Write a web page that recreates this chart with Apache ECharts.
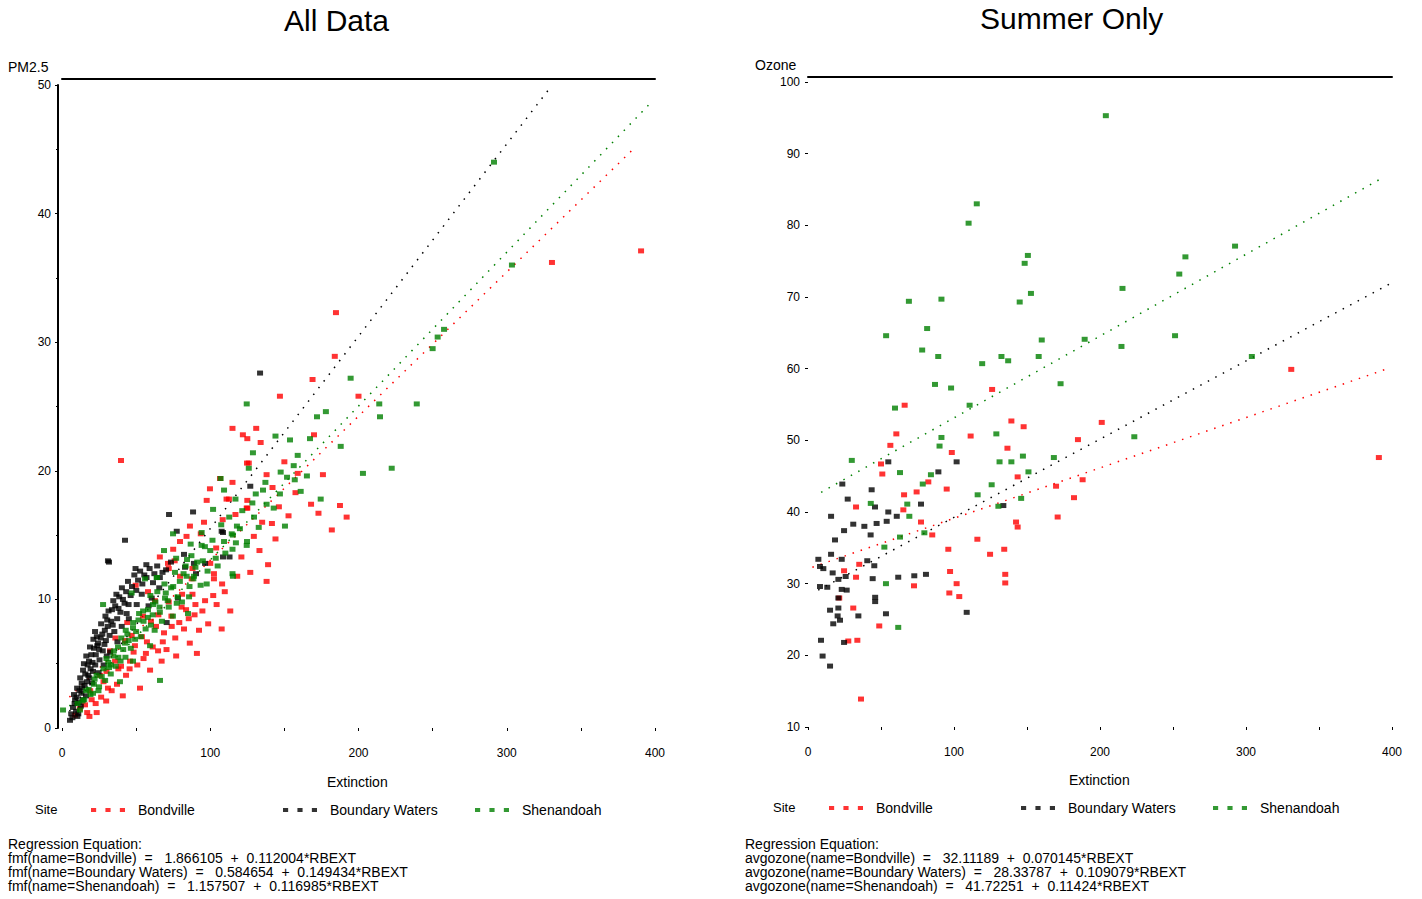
<!DOCTYPE html>
<html>
<head>
<meta charset="utf-8">
<title>All Data / Summer Only</title>
<script src="https://cdn.jsdelivr.net/npm/echarts@6/dist/echarts.min.js"></script>
<style>
  html, body { margin: 0; padding: 0; background: #fff; }
  #main { width: 1422px; height: 899px; }
</style>
</head>
<body>
<div id="main"></div>
<script>
// ---- data: [Extinction, value] ----

// All Data (PM2.5)
var allBondville = [
  [184.8,32.3],[184,28.9],[169,27.1],[147,25.8],[200,25.8],[115,23.3],[131,23.3],[122,22.8],[125,22.5],[134,22.2],
  [170,22.8],[150,20.7],[126,20.6],[138,19.7],[159,19.8],[176,19.7],[115,19.1],[142,18.7],[168,17.4],[187.5,17.3],
  [173,16.7],[192,16.4],[182,15.4],[144,14.7],[117,16.6],[135,16.0],[124.6,17.1],[97.6,17.7],[99.8,18.6],[106.6,19.4],
  [108.4,16.2],[112.6,17.8],[330.5,36.2],[390.6,37.1],[39.8,20.8],[124.8,20.6],[111,17.8],[125,17.7],[125,17.1],[95.8,16.0],
  [84,14.9],[93.6,15.1],[75,13.9],[66,13.3],[76,13.0],[88,12.4],[121,13.3],[104,14.0],[72,12.4],[100,12.8],
  [127,12.1],[102.5,11.6],[71.5,12.8],[49.7,11.1],[79.6,11.8],[87.5,11.6],[102.5,12.0],[139,12.7],[138,11.4],[108,11.2],
  [102,10.3],[96.5,9.9],[90,9.6],[88,10.4],[81,10.4],[80.7,9.4],[85.5,8.5],[92.4,7.6],[82.3,7.7],[107.7,7.7],
  [68.8,7.4],[60,8.3],[49.2,6.4],[64.8,6.0],[57.3,6.7],[77,5.6],[91,5.8],[68,6.7],[59.4,4.5],[43.2,4.1],
  [52.6,3.1],[41,2.5],[23.4,1.2],[31,3.1],[15.5,1.8],[19,2.9],[8.8,1.0],[25.6,4.1],[35.8,5.2],[42.5,6.8],
  [32.4,6.0],[79.6,14.5],[86.3,15.7],[62.7,9.9],[54.6,8.7],[45.9,5.2],[12,1.5],[28,3.6],[38,4.6],[47,7.2],
  [55,5.4],[65,8.8],[72,9.8],[74,7.9],[58,10.6],[44,8.2],[36,7.0],[30,4.4],[20,2.2],[17,1.2],
  [18.5,0.9],[22.7,1.9],[26.4,2.4],[29.8,2.1],[33.5,2.9],[37.1,3.4],[39.8,4.8],[45.6,4.6],[48.3,5.9],[50.8,4.9],
  [53.9,7.1],[56.6,5.8],[61.2,6.3],[63.4,7.9],[67.2,5.2],[70.5,6.1],[73.8,8.7],[76.4,7.0],[79.1,8.2],[83.7,9.2],
  [86.2,6.6],[89.4,8.8],[94.7,9.1],[98.6,8.1],[104.3,9.6],[109.8,10.6],[113.5,9.1],[118.2,11.8],[129.4,14.9],[133.2,13.8],
  [141.6,15.9],[146.3,17.2],[152.8,16.5],[157.5,18.3]
];
var allBoundary = [
  [133.6,27.6],[127,18.8],[107.7,15.3],[88.4,16.8],[72.2,16.6],[42.5,14.6],[31,13.0],[77.4,15.3],[82.3,13.5],[108.6,15.2],
  [96.5,12.8],[108.6,13.3],[113,13.3],[89,12.8],[83,12.5],[57,11.7],[66,11.7],[31.7,12.9],[60.5,10.1],[43.6,8.9],
  [40.3,7.9],[22.3,7.5],[24.3,6.6],[18.2,5.2],[14.2,4.5],[13.3,3.5],[8.8,2.2],[5.4,0.6],[30.2,5.6],[50.4,9.6],
  [90.4,12.0],[78.2,10.1],[70.6,8.2],[6.2,1.1],[7.4,1.6],[8.1,2.6],[9.5,1.3],[10.2,3.1],[11.6,2.0],[12.3,3.9],
  [13.1,2.7],[14.8,5.0],[15.2,3.3],[16.4,5.6],[17.7,4.1],[18.9,6.3],[19.3,4.6],[20.6,5.1],[21.2,6.9],[22.8,5.7],
  [23.5,7.1],[24.7,4.3],[25.1,6.1],[26.4,8.1],[27.2,7.3],[28.6,6.5],[29.3,8.7],[30.8,7.9],[31.4,9.1],[33.2,8.3],
  [34.6,9.9],[35.3,7.5],[36.7,10.4],[38.1,9.3],[40.4,10.9],[42.2,9.7],[44.5,11.4],[46.3,10.3],[48.8,11.9],[50.1,10.7],
  [52.7,12.2],[54.2,11.2],[56.9,12.7],[58.4,9.5],[62.3,12.0],[65.6,10.9],[70.2,12.3],[45.1,8.5],[37.4,6.7],[32.5,5.9],
  [28.1,4.9],[20.3,3.5],[16.2,2.5],[12.7,1.7],[10.4,0.9],
  [7,0.8],[8.5,1.9],[9.8,2.4],[11,1.1],[11.8,2.9],[13.5,3.1],[14.1,2.2],[15.7,4.2],[16.9,3.6],[17.3,4.9],
  [18.4,3.9],[19.8,5.7],[20.9,4.4],[21.6,6.2],[22.4,4.9],[23.8,6.4],[25.3,5.3],[26.1,7.0],[27.5,6.0],[28.9,7.6],
  [29.6,6.8],[30.5,8.4],[32.1,7.2],[33.7,9.2],[34.2,8.0],[35.9,9.5],[37.2,8.5],[38.6,10.2],[39.4,9.0],[41.1,10.0],
  [43.3,10.6],[44.9,9.6],[47.2,11.0],[49.6,12.4],[51.3,11.5],[53.8,10.4],[55.5,11.9],[59.1,12.4],[61.4,11.3],[64.2,12.6],
  [67.8,12.1],[73.5,12.9]
];
var allShenandoah = [
  [257.7,31.0],[253.4,30.4],[250,29.5],[239.3,25.2],[214.5,24.2],[214,25.2],[178,24.6],[172,24.2],[194.7,27.2],[124.6,25.2],
  [167.3,22.5],[153.8,22.4],[144,22.7],[128.8,21.4],[126,20.2],[159,21.2],[188,21.9],[222.4,20.2],[203,19.8],[147.5,19.9],
  [151.8,19.5],[157,19.3],[161,18.4],[174.5,17.8],[135.6,18.5],[147,18.2],[130.7,18.2],[138,17.4],[129.5,16.4],[150.4,15.7],
  [118,15.7],[109.3,18.5],[107,19.4],[101.9,17.0],[115.3,15.0],[124.8,14.5],[291.4,44.0],[303.5,36.0],[117,17.8],[94.2,15.2],
  [114.5,15.1],[120,15.5],[86.8,14.3],[94.2,14.2],[109.3,14.5],[68.8,13.8],[77,13.2],[84.3,13.1],[115,13.9],[74.9,15.1],
  [89,11.8],[115,12.0],[64,11.7],[124.6,14.2],[27.7,9.6],[47,10.5],[56,11.6],[63.9,11.7],[69.5,10.1],[61.4,9.6],
  [42.5,6.6],[31.7,4.7],[20.9,2.7],[12.1,1.4],[0.7,1.4],[47.9,5.2],[59.4,6.4],[66.1,3.7],[85,8.9],[77.4,9.7],
  [84.1,11.8],[97.6,11.2],[115.3,11.8],[39.1,3.6],[15,2.2],[18,3.0],[22,3.8],[25,3.2],[28,4.6],[30,5.4],
  [33,4.9],[35,6.0],[38,5.5],[40,7.0],[43,7.6],[45,6.8],[48,8.2],[50,7.5],[52,8.9],[55,8.3],
  [58,9.2],[60,8.0],[63,9.8],[66,9.0],[70,10.5],[72,9.4],[75,11.0],[78,10.2],[82,12.0],[86,11.0],
  [90,12.5],[95,13.0],[100,13.8],[105,12.6],
  [10.5,1.9],[13.8,2.1],[16.3,2.9],[19.2,2.6],[21.5,3.4],[23.3,4.1],[24.6,2.9],[26.8,4.0],[29.1,3.7],[31.2,5.1],
  [32.9,4.2],[34.6,5.6],[36.2,4.8],[37.8,6.3],[39.5,5.2],[41.3,6.1],[42.8,5.5],[44.1,7.3],[46.4,6.2],[47.9,7.8],
  [49.3,6.9],[51.6,8.4],[53.2,7.1],[54.7,9.1],[56.4,7.7],[57.9,8.6],[59.6,10.3],[61.2,8.8],[62.5,7.6],[64.3,10.6],
  [65.8,9.4],[67.4,8.3],[69.1,11.2],[71.3,9.9],[73.6,10.9],[74.8,8.7],[76.2,12.1],[79.5,11.4],[80.9,9.8],[83.4,12.6],
  [85.7,10.2],[87.3,13.4],[88.6,11.6],[91.2,12.9],[93.5,11.1],[96.4,14.1],[98.2,12.2],[101.5,14.6],[103.7,13.2],[107.4,15.8],
  [110.2,13.6],[112.8,16.4],[117.3,14.4],[121.6,16.9],[128.4,17.5],[132.7,15.6],[137.2,19.1],[142.8,17.1],[156.3,20.4],[165.2,19.6]
];
// fitted lines, ends
var allFitBondville = [[5,2.4],[387,45.2]];
var allFitBoundary = [[5,1.3],[330,49.9]];
var allFitShenandoah = [[5,1.7],[397,48.6]];

// Summer Only (Ozone)
var sumBondville = [
  [126.1,57.1],[66.2,54.9],[60.5,50.9],[56.4,49.3],[111.4,50.6],[139.3,52.7],[147.7,51.9],[136.6,48.9],[98.5,48.3],[184.9,50.1],
  [201.2,52.5],[331,59.9],[391,47.6],[50,46.7],[143.6,44.9],[188.1,44.5],[169.9,43.6],[182.2,42.0],[171,39.3],[142.5,38.6],
  [143.6,37.9],[134.4,34.8],[135.1,31.3],[135.1,30.1],[50.9,45.3],[82.4,44.2],[95,43.2],[74.4,42.8],[65.8,42.4],[32.9,40.7],
  [65.3,40.3],[77.4,38.6],[85.1,36.8],[96.1,34.8],[35.1,32.7],[24.7,31.8],[32.9,30.9],[97.3,31.7],[101.8,30.0],[72.6,29.7],
  [96.8,28.7],[103.6,28.2],[21.4,28.0],[31,26.6],[48.8,24.1],[33.8,22.1],[27.6,22.0],[36.3,13.9],[116,36.2],[124.7,34.1]
];
var sumBoundary = [
  [55,47.0],[101.8,47.0],[89.3,45.6],[23.5,43.9],[43.6,43.1],[27.2,41.8],[45.9,40.7],[77.4,41.1],[133.8,40.9],[55,40.0],
  [60.8,39.4],[15.8,39.4],[31,38.3],[38.6,38.0],[47,38.4],[53.9,38.7],[24.7,37.4],[42.9,36.8],[18.5,36.1],[15.8,34.1],
  [7.1,33.4],[23.1,33.4],[40.6,33.2],[10.5,32.1],[8.2,32.4],[16.9,31.5],[25.8,31.0],[45.4,32.5],[20.8,30.6],[8.2,29.6],
  [13.2,29.5],[23.1,29.2],[26.5,29.1],[44.3,30.7],[61.8,30.9],[72.8,31.1],[80.8,31.3],[108.7,26.0],[53.4,25.8],[46,28.1],
  [46,27.5],[20.8,28.0],[15.1,26.3],[20.8,26.6],[20.3,25.5],[21.9,24.9],[17.3,24.4],[34.5,25.5],[8.9,22.1],[24.7,21.8],
  [10,19.9],[15.1,18.5]
];
var sumShenandoah = [
  [204,95.3],[115.6,83.0],[110,80.3],[150.6,75.8],[148.4,74.7],[152.7,70.5],[145,69.3],[69.1,69.4],[91.4,69.7],[81.6,65.6],
  [53.5,64.6],[78.2,62.6],[89.2,61.7],[119.3,60.7],[132.5,61.7],[137.1,61.1],[158,61.7],[160.1,64.0],[189.5,64.1],[214.7,63.1],
  [215.4,71.2],[254.3,73.2],[258.5,75.6],[292.5,77.1],[251.4,64.6],[304,61.7],[173,57.9],[87,57.8],[98,57.3],[59.6,54.5],
  [110.7,54.9],[129,50.9],[91.4,50.4],[90.1,49.2],[147.2,47.8],[168.4,47.6],[131.2,47.0],[139.3,47.0],[223.5,50.5],[30,47.2],
  [63,45.5],[84.2,45.2],[78.6,43.9],[125.8,43.8],[116.2,42.4],[130.4,40.8],[68,41.1],[69.4,39.4],[43,41.2],[63,36.5],
  [79.7,37.1],[52.3,35.1],[53.4,30.0],[61.8,23.9],[151,45.6],[146,41.9]
];
var sumFitBondville = [[3,32.3],[397,60.0]];
var sumFitBoundary = [[7,29.1],[400,72.0]];
var sumFitShenandoah = [[9,42.75],[395,86.8]];

var leftEquations = [
  'Regression Equation:',
  'fmf(name=Bondville)  =   1.866105  +  0.112004*RBEXT',
  'fmf(name=Boundary Waters)  =   0.584654  +  0.149434*RBEXT',
  'fmf(name=Shenandoah)  =   1.157507  +  0.116985*RBEXT'
];
var rightEquations = [
  'Regression Equation:',
  'avgozone(name=Bondville)  =   32.11189  +  0.070145*RBEXT',
  'avgozone(name=Boundary Waters)  =   28.33787  +  0.109079*RBEXT',
  'avgozone(name=Shenandoah)  =   41.72251  +  0.11424*RBEXT'
];

var RED = '#ff0000', BLACK = '#000000', GREEN = '#008000';
var FONT = '"Liberation Sans", Arial, sans-serif';

var chart = echarts.init(document.getElementById('main'), null, {renderer: 'svg'});

function txt(text, left, top, size, extra) {
  return Object.assign({
    text: text, left: left, top: top, padding: 0,
    textStyle: {fontFamily: FONT, fontSize: size, fontWeight: 'normal', color: '#000'}
  }, extra || {});
}

function bottomAxis(grid) {
  return {
    gridIndex: grid, type: 'value', min: 0, max: 400, interval: 100,
    axisLine: {show: false, onZero: false},
    axisTick: {show: true, length: 3, lineStyle: {color: '#000'}},
    minorTick: {show: true, splitNumber: 2, length: 3, lineStyle: {color: '#000'}},
    axisLabel: {margin: 19, fontFamily: FONT, fontSize: 12, color: '#000'},
    splitLine: {show: false}
  };
}
function topLine(grid, off) {
  return {
    gridIndex: grid, type: 'value', min: 0, max: 400, position: 'top', offset: off,
    axisLine: {show: true, onZero: false, lineStyle: {color: '#000', width: 2}},
    axisTick: {show: false}, axisLabel: {show: false}, splitLine: {show: false}
  };
}

function dots(name, data, color, xi, yi) {
  return {
    name: name, type: 'scatter', xAxisIndex: xi, yAxisIndex: yi, data: data,
    symbol: 'rect', symbolSize: [6, 5], itemStyle: {color: color}, z: 3
  };
}
function fit(name, data, color, xi, yi) {
  return {
    name: name, type: 'line', xAxisIndex: xi, yAxisIndex: yi, data: data,
    showSymbol: false, silent: true, z: 2,
    lineStyle: {color: color, width: 1.5, type: [1.5, 7]}
  };
}

var icon = 'path://M0,0H5V4H0Z M14,0H19V4H14Z M28,0H33V4H28Z';
function leg(name, left, top) {
  return {
    data: [name], left: left, top: top, icon: icon, itemWidth: 34, itemHeight: 5,
    textStyle: {fontFamily: FONT, fontSize: 14, color: '#000', padding: [0, 0, 0, 8]},
    selectedMode: false
  };
}

var option = {
  backgroundColor: '#fff',
  animation: false,
  title: [
    txt('All Data', 284, 5, 30),
    txt('Summer Only', 980, 3, 30),
    txt('PM2.5', 8, 60, 14),
    txt('Ozone', 755, 58, 14),
    txt('Extinction', 327, 775, 14),
    txt('Extinction', 1069, 773, 14),
    txt('Site', 35, 803, 13),
    txt('Site', 773, 801, 13),
    txt(leftEquations.join('\n'), 8, 837, 14),
    txt(rightEquations.join('\n'), 745, 837, 14)
  ],
  legend: [
    leg('Bondville', 86, 798),
    leg('Boundary Waters', 278, 798),
    leg('Shenandoah', 470, 798),
    leg('Bondville', 824, 796),
    leg('Boundary Waters', 1016, 796),
    leg('Shenandoah', 1208, 796)
  ],
  grid: [
    {left: 62, top: 85, width: 593, height: 643},
    {left: 808, top: 82, width: 584, height: 645}
  ],
  xAxis: [bottomAxis(0), topLine(0, 6), bottomAxis(1), topLine(1, 5)],
  yAxis: [
    {
      gridIndex: 0, type: 'value', min: 0, max: 50, interval: 10, offset: 4,
      axisLine: {show: true, onZero: false, lineStyle: {color: '#000', width: 2}},
      axisTick: {show: true, length: 3, lineStyle: {color: '#000'}},
      minorTick: {show: true, splitNumber: 2, length: 2, lineStyle: {color: '#000'}},
      axisLabel: {margin: 7, fontFamily: FONT, fontSize: 12, color: '#000'},
      splitLine: {show: false}
    },
    {
      gridIndex: 1, type: 'value', min: 10, max: 100, interval: 10,
      axisLine: {show: false, onZero: false},
      axisTick: {show: true, length: 3, lineStyle: {color: '#000'}},
      axisLabel: {margin: 8, fontFamily: FONT, fontSize: 12, color: '#000'},
      splitLine: {show: false}
    }
  ],
  series: [
    fit('fit Bondville', allFitBondville, RED, 0, 0),
    fit('fit Boundary Waters', allFitBoundary, BLACK, 0, 0),
    fit('fit Shenandoah', allFitShenandoah, GREEN, 0, 0),
    dots('Bondville', allBondville, RED, 0, 0),
    dots('Boundary Waters', allBoundary, BLACK, 0, 0),
    dots('Shenandoah', allShenandoah, GREEN, 0, 0),
    fit('fit Bondville', sumFitBondville, RED, 2, 1),
    fit('fit Boundary Waters', sumFitBoundary, BLACK, 2, 1),
    fit('fit Shenandoah', sumFitShenandoah, GREEN, 2, 1),
    dots('Bondville', sumBondville, RED, 2, 1),
    dots('Boundary Waters', sumBoundary, BLACK, 2, 1),
    dots('Shenandoah', sumShenandoah, GREEN, 2, 1)
  ]
};

chart.setOption(option);
window.addEventListener('resize', function () { chart.resize(); });
</script>
</body>
</html>
